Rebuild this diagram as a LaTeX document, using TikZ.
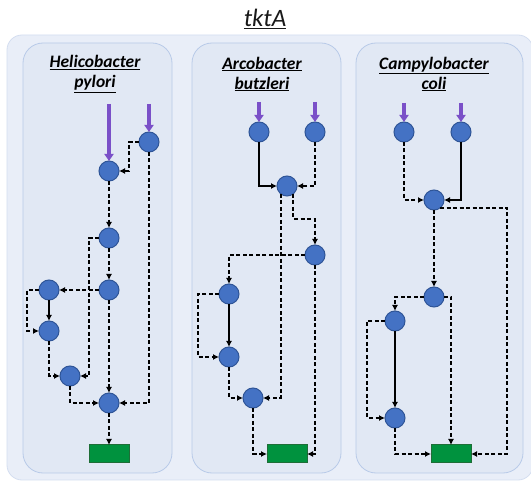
\documentclass[tikz,border=0pt]{standalone}
\usepackage{fontspec}
\setmainfont{Carlito}
\usetikzlibrary{arrows.meta,calc}
\definecolor{outerfill}{RGB}{233,238,248}
\definecolor{outerdraw}{RGB}{212,222,240}
\definecolor{innerfill}{RGB}{225,232,244}
\definecolor{innerdraw}{RGB}{184,202,232}
\definecolor{nodeblue}{RGB}{68,114,196}
\definecolor{nodeborder}{RGB}{47,85,151}
\definecolor{boxgreen}{RGB}{0,146,62}
\definecolor{boxborder}{RGB}{30,110,55}
\definecolor{inpurple}{RGB}{122,80,200}
\begin{document}
\begin{tikzpicture}[x=1pt,y=-1pt,
  circ/.style={circle, minimum size=20pt, inner sep=0pt, outer sep=0pt, fill=nodeblue, draw=nodeborder, line width=1pt},
  gbox/.style={rectangle, minimum width=40pt, minimum height=18pt, inner sep=0pt, outer sep=0pt, fill=boxgreen, draw=boxborder, line width=1pt},
  arr/.style={-{Latex[length=6pt,width=6pt]}, line width=1.3pt, black},
  dsh/.style={arr, dash pattern=on 4pt off 2.5pt},
  parr/.style={-{Triangle[length=7pt,width=9pt]}, line width=4pt, inpurple},
  panel/.style={fill=innerfill, draw=innerdraw, line width=0.8pt, rounded corners=20pt},
  lbl/.style={font=\fontsize{17.5}{20}\selectfont\bfseries\itshape, align=center, inner sep=0pt}
]
\useasboundingbox (0,0) rectangle (531,481);
\fill[white] (0,0) rectangle (531,481);
% outer panel
\draw[fill=outerfill, draw=outerdraw, line width=0.8pt, rounded corners=15pt] (7,35) rectangle (533,480);
% title
\node[font=\fontsize{25}{28}\selectfont\itshape, text=black!90] (title) at (265,19) {\underline{tktA}};
% inner panels
\draw[panel] (23,43) rectangle (172,473);
\draw[panel] (192,43) rectangle (341,473);
\draw[panel] (356,43) rectangle (523,473);
% labels
\node[lbl] (L1) at (95,74) {\underline{Helicobacter}\\\underline{pylori}};
\node[lbl] (L2) at (262,74) {\underline{Arcobacter}\\\underline{butzleri}};
\node[lbl] (L3) at (434,74) {\underline{Campylobacter}\\\underline{coli}};

% ---------- panel 1 ----------
\node[circ] (A1) at (109,171) {};
\node[circ] (B1) at (149,142) {};
\node[circ] (C1) at (109,238) {};
\node[circ] (D1) at (109,290) {};
\node[circ] (E1) at (49,290) {};
\node[circ] (F1) at (49,331) {};
\node[circ] (G1) at (70,376) {};
\node[circ] (H1) at (109,403) {};
\node[gbox] (R1) at (109,454) {};
\coordinate (p1a) at (109,104);
\coordinate (p1b) at (149,104);
\draw[parr] (p1a) -- (A1.north);
\draw[parr] (p1b) -- (B1.north);
\draw[dsh] (B1.west) -- ++(-10,0) |- (A1);
\draw[dsh] (A1) -- (C1);
\draw[dsh] (C1.west) -- ++(-10,0) |- (G1);
\draw[dsh] (C1) -- (D1);
\draw[dsh] (D1) -- (E1);
\draw[arr] (E1) -- (F1);
\draw[dsh] (E1.west) -- ++(-12,0) |- (F1);
\draw[dsh] (F1) |- (G1);
\draw[dsh] (D1) -- (H1);
\draw[dsh] (G1) |- (H1);
\draw[dsh] (B1) |- (H1);
\draw[dsh] (H1) -- (R1);

% ---------- panel 2 ----------
\node[circ] (A2) at (259,132) {};
\node[circ] (B2) at (315,132) {};
\node[circ] (C2) at (287,186) {};
\node[circ] (D2) at (315,255) {};
\node[circ] (E2) at (229,294) {};
\node[circ] (F2) at (229,357) {};
\node[circ] (G2) at (253,398) {};
\node[gbox] (R2) at (287,454) {};
\coordinate (p2a) at (259,102);
\coordinate (p2b) at (315,102);
\draw[parr] (p2a) -- (A2.north);
\draw[parr] (p2b) -- (B2.north);
\draw[arr] (A2) |- (C2);
\draw[dsh] (B2) |- (C2);
\draw[dsh] (C2.-53) -- ++(0,25) -| (D2);
\draw[dsh] (C2.-127) |- (G2);
\draw[dsh] (D2) -| (E2);
\draw[dsh] (D2) |- (R2);
\draw[arr] (E2) -- (F2);
\draw[dsh] (E2.west) -- ++(-21,0) |- (F2);
\draw[dsh] (F2) |- (G2);
\draw[dsh] (G2) |- (R2);

% ---------- panel 3 ----------
\node[circ] (A3) at (404,132) {};
\node[circ] (B3) at (461,132) {};
\node[circ] (C3) at (434,200) {};
\node[circ] (D3) at (434,297) {};
\node[circ] (E3) at (395,321) {};
\node[circ] (F3) at (395,418) {};
\node[gbox] (R3) at (451,454) {};
\coordinate (p3a) at (404,103);
\coordinate (p3b) at (461,103);
\draw[parr] (p3a) -- (A3.north);
\draw[parr] (p3b) -- (B3.north);
\draw[dsh] (A3) |- (C3);
\draw[arr] (B3) |- (C3);
\draw[dsh] (C3) -- (D3);
\draw[dsh] (C3.-53) -- ++(67,0) |- (R3);
\draw[dsh] (D3) -| (E3);
\draw[dsh] (D3) -| (R3);
\draw[arr] (E3) -- (F3);
\draw[dsh] (E3.west) -- ++(-18,0) |- (F3);
\draw[dsh] (F3) |- (R3);
\end{tikzpicture}
\end{document}
